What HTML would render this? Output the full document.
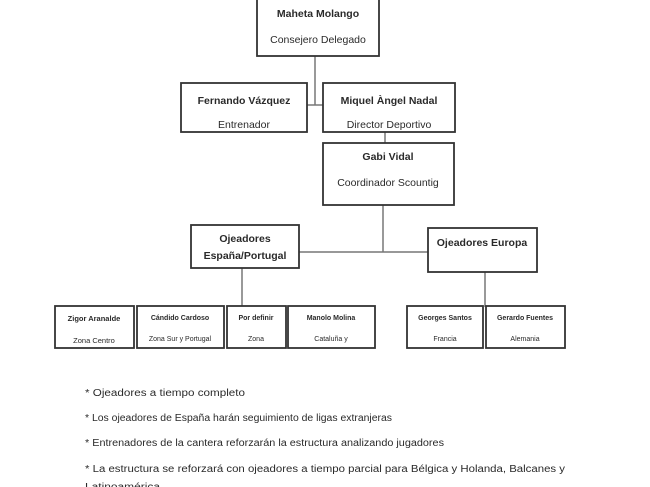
<!DOCTYPE html>
<html><head><meta charset="utf-8"><style>
html,body{margin:0;padding:0;background:#fff;width:650px;height:487px;overflow:hidden}
svg{display:block}
text{font-family:"Liberation Sans",sans-serif;fill:#2a2a2a}
.b{font-weight:bold}
</style></head><body>
<svg width="650" height="487" viewBox="0 0 650 487">
<g stroke="#777" stroke-width="1.5" fill="none">
<line x1="315" y1="56" x2="315" y2="105"/>
<line x1="307" y1="105" x2="323" y2="105"/>
<line x1="385" y1="132" x2="385" y2="143"/>
<line x1="383" y1="205" x2="383" y2="252"/>
<line x1="299" y1="252" x2="428" y2="252"/>
<line x1="242" y1="268" x2="242" y2="306"/>
<line x1="485" y1="272" x2="485" y2="307"/>
</g>
<g stroke="#333" stroke-width="1.8" fill="#fff">
<rect x="257" y="-2" width="122" height="58"/>
<rect x="181" y="83" width="126" height="49"/>
<rect x="323" y="83" width="132" height="49"/>
<rect x="323" y="143" width="131" height="62"/>
<rect x="191" y="225" width="108" height="43"/>
<rect x="428" y="228" width="109" height="44"/>
<rect x="55" y="306" width="79" height="42"/>
<rect x="137" y="306" width="87" height="42"/>
<rect x="227" y="306" width="59" height="42"/>
<rect x="288" y="306" width="87" height="42"/>
<rect x="407" y="306" width="76" height="42"/>
<rect x="486" y="306" width="79" height="42"/>
</g>
<g text-anchor="middle">
<text class="b" x="318" y="17" font-size="10.5">Maheta Molango</text>
<text x="318" y="43" font-size="10.5">Consejero Delegado</text>
<text class="b" x="244" y="104" font-size="10.5">Fernando Vázquez</text>
<text x="244" y="128" font-size="10.5">Entrenador</text>
<text class="b" x="389" y="104" font-size="10.5">Miquel Àngel Nadal</text>
<text x="389" y="128" font-size="10.5">Director Deportivo</text>
<text class="b" x="388" y="160" font-size="10.5">Gabi Vidal</text>
<text x="388" y="186" font-size="10.5">Coordinador Scountig</text>
<text class="b" x="245" y="242" font-size="10.5">Ojeadores</text>
<text class="b" x="245" y="259" font-size="10.5">España/Portugal</text>
<text class="b" x="482" y="246" font-size="10.5">Ojeadores Europa</text>
<text class="b" x="94" y="321" font-size="7.5">Zigor Aranalde</text>
<text x="94" y="343" font-size="7.5">Zona Centro</text>
<text class="b" x="180" y="320" font-size="7">Cándido Cardoso</text>
<text x="180" y="341" font-size="7">Zona Sur y Portugal</text>
<text class="b" x="256" y="320" font-size="7">Por definir</text>
<text x="256" y="341" font-size="7">Zona</text>
<text class="b" x="331" y="320" font-size="7">Manolo Molina</text>
<text x="331" y="341" font-size="7">Cataluña y</text>
<text class="b" x="445" y="320" font-size="7">Georges Santos</text>
<text x="445" y="341" font-size="7">Francia</text>
<text class="b" x="525" y="320" font-size="7">Gerardo Fuentes</text>
<text x="525" y="341" font-size="7">Alemania</text>
</g>
<g font-size="10">
<text x="85" y="396" textLength="160" lengthAdjust="spacingAndGlyphs">* Ojeadores a tiempo completo</text>
<text x="85" y="421" textLength="307" lengthAdjust="spacingAndGlyphs">* Los ojeadores de España harán seguimiento de ligas extranjeras</text>
<text x="85" y="446" textLength="359" lengthAdjust="spacingAndGlyphs">* Entrenadores de la cantera reforzarán la estructura analizando jugadores</text>
<text x="85" y="472" textLength="480" lengthAdjust="spacingAndGlyphs">* La estructura se reforzará con ojeadores a tiempo parcial para Bélgica y Holanda, Balcanes y</text>
<text x="85" y="490" textLength="75" lengthAdjust="spacingAndGlyphs">Latinoamérica</text>
</g>
</svg>
</body></html>
